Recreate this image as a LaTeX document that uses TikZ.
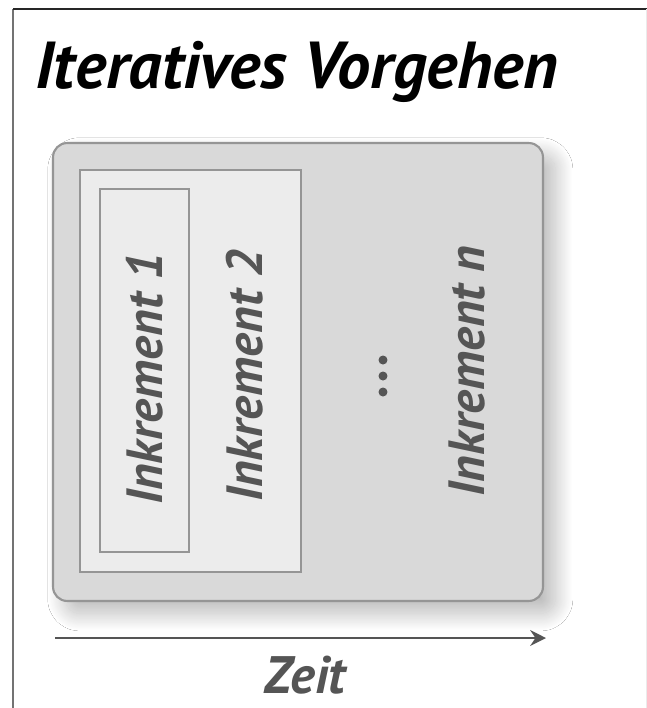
\documentclass[tikz,border=0pt]{standalone}
\usepackage{fontspec}
\newfontfamily\titlefont{PT Sans}
\usetikzlibrary{arrows.meta,shadows.blur}
\definecolor{boxgray}{HTML}{D9D9D9}
\definecolor{lightbox}{HTML}{ECECEC}
\definecolor{rimgray}{HTML}{959595}
\definecolor{textgray}{HTML}{555555}
\begin{document}
\begin{tikzpicture}[x=0.02cm,y=-0.02cm]
    \tikzstyle{every node}+=[inner sep=0pt]
    \tikzstyle{inkrement}=[rotate=90, text=textgray, font=\titlefont\bfseries\itshape\fontsize{29}{29}\selectfont]
    \tikzstyle{stufe}=[draw=rimgray, line width=1.2pt, fill=lightbox]
    \useasboundingbox (0,0) rectangle (647,708);
    \fill [white] (0,0) rectangle (647,708);
    \draw [black!55, line width=1.2pt] (13,708) -- (13,9);
    \draw [black!85, line width=1.2pt] (13,9) -- (647,9);
    \draw [black!8] (646,9) -- (646,708);
    \node (titel) [anchor=base west, font=\titlefont\bfseries\itshape\fontsize{37.8}{38}\selectfont] at (35,88) {Iteratives Vorgehen};
    \node (aussen) [draw=rimgray, line width=1.2pt, fill=boxgray, rounded corners=8pt, minimum width=9.8cm, minimum height=9.16cm,
        blur shadow={shadow xshift=7pt, shadow yshift=-7pt, shadow blur radius=10pt, shadow blur steps=40, shadow opacity=28}] at (298,372) {};
    \node (stufe2) [stufe, minimum width=4.42cm, minimum height=8.04cm] at (190.5,371) {};
    \node (stufe1) [stufe, minimum width=1.78cm, minimum height=7.26cm] at (144.5,370.5) {};
    \node (ink1) [inkrement] at (145,379) {Inkrement 1};
    \node (ink2) [inkrement] at (245,376) {Inkrement 2};
    \node (inkn) [inkrement] at (467,371) {Inkrement n};
    \foreach \y [count=\i] in {360,376,392}
        \node (punkt\i) [circle, fill=textgray, minimum size=0.18cm] at (383,\y) {};
    \coordinate (start) at (55,638);
    \coordinate (ende) at (546,638);
    \draw [textgray, line width=1.1pt, -{Stealth[length=9pt, width=9pt, inset=3pt]}] (start) -- (ende);
    \node (zeit) [anchor=base, text=textgray, font=\titlefont\bfseries\itshape\fontsize{30}{30}\selectfont] at (305,693) {Zeit};
\end{tikzpicture}
\end{document}
